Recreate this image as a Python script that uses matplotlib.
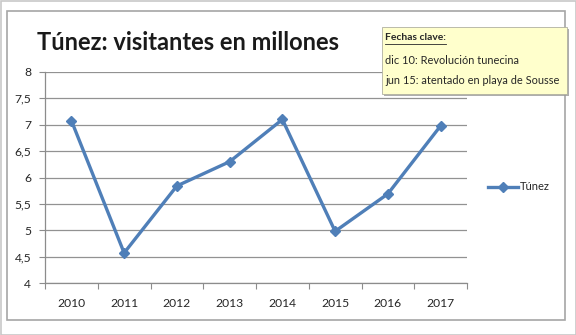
import matplotlib
matplotlib.use("Agg")
import matplotlib.pyplot as plt
from matplotlib.patches import Rectangle
from matplotlib.lines import Line2D

# Visitors to Tunisia, in millions
years = ["2010", "2011", "2012", "2013", "2014", "2015", "2016", "2017"]
visitors = [7.08, 4.57, 5.84, 6.30, 7.10, 4.98, 5.69, 6.98]
y_ticks = [4, 4.5, 5, 5.5, 6, 6.5, 7, 7.5, 8]
y_labels = ["4", "4,5", "5", "5,5", "6", "6,5", "7", "7,5", "8"]
series_name = "Túnez"
title = "Túnez: visitantes en millones"
notes_header = "Fechas clave:"
notes = ["dic 10: Revolución tunecina", "jun 15: atentado en playa de Sousse"]

FONT = ["Lato", "DejaVu Sans"]
plt.rcParams["font.family"] = FONT
LINE_BLUE = "#4F7FB8"
TEXT = "#262626"

W, H = 576, 335
fig = plt.figure(figsize=(W / 100, H / 100), dpi=100)
fig.patch.set_facecolor("white")

def px(x, y):
    return x / W, 1 - y / H

# outer image border and chart-area frame
fig.add_artist(Rectangle((0.5 / W, 0.5 / H), 1 - 1 / W, 1 - 1 / H, transform=fig.transFigure,
                         fill=False, edgecolor="#c8c8c8", linewidth=1.2))
fig.add_artist(Rectangle((7 / W, 1 - 320 / H), (565 - 7) / W, (320 - 11) / H,
                         transform=fig.transFigure, fill=False, edgecolor="#a6a6a6", linewidth=1.2))

ax = fig.add_axes([45 / W, 1 - 283 / H, (467 - 45) / W, (283 - 72) / H])
x = list(range(len(years)))
ax.plot(x, visitors, color=LINE_BLUE, linewidth=2.4, marker="D", markersize=5.5,
        markerfacecolor=LINE_BLUE, markeredgecolor=LINE_BLUE, zorder=3)

ax.set_xlim(-0.5, len(years) - 0.5)
ax.set_ylim(4, 8)
ax.set_yticks(y_ticks)
ax.set_yticklabels(y_labels)
ax.set_xticks(x)
ax.set_xticklabels(years)
ax.set_xticks([i - 0.5 for i in range(len(years) + 1)], minor=True)
ax.tick_params(axis="x", which="major", length=0, pad=11, labelsize=8.7, labelcolor=TEXT)
ax.tick_params(axis="x", which="minor", length=4, width=0.8, color="#8c8c8c", direction="out")
ax.tick_params(axis="y", which="major", length=4, width=0.8, color="#8c8c8c", pad=6,
               labelsize=8.7, labelcolor=TEXT)

ax.grid(axis="y", color="#929292", linewidth=0.9)
ax.set_axisbelow(True)
for side in ("top", "right"):
    ax.spines[side].set_visible(False)
for side in ("left", "bottom"):
    ax.spines[side].set_color("#8c8c8c")
    ax.spines[side].set_linewidth(0.9)

fig.text(*px(37, 42), title, fontsize=17, fontweight="bold", color="#1a1a1a",
         ha="left", va="center")

# legend entry
lx0, lx1, ly = 488, 518, 187
fig.add_artist(Line2D([lx0 / W, lx1 / W], [1 - ly / H] * 2, transform=fig.transFigure,
                      color=LINE_BLUE, linewidth=2.4))
fig.add_artist(Line2D([(lx0 + lx1) / 2 / W], [1 - ly / H], transform=fig.transFigure,
                      marker="D", markersize=5, color=LINE_BLUE, linestyle="none"))
fig.text(*px(520, ly), series_name, fontsize=8, color=TEXT, ha="left", va="center")

# key dates note box with shadow
bx0, by0, bx1, by1 = 382, 27, 567, 94
fig.add_artist(Rectangle(((bx0 + 2) / W, 1 - (by1 + 2) / H), (bx1 - bx0) / W, (by1 - by0) / H,
                         transform=fig.transFigure, facecolor="#9a9a9a", edgecolor="none",
                         alpha=0.8))
fig.add_artist(Rectangle((bx0 / W, 1 - by1 / H), (bx1 - bx0) / W, (by1 - by0) / H,
                         transform=fig.transFigure, facecolor="#FFFFCC", edgecolor="#b0b0a0",
                         linewidth=0.6))
header = fig.text(*px(385, 38), notes_header, fontsize=7.4, fontweight="bold", color=TEXT,
                  ha="left", va="center")
fig.text(*px(385, 60), notes[0], fontsize=7.9, color=TEXT, ha="left", va="center")
fig.text(*px(385, 81), notes[1], fontsize=7.9, color=TEXT, ha="left", va="center")

# underline the header to its rendered width
fig.canvas.draw()
hb = header.get_window_extent()
fig.add_artist(Line2D([hb.x0 / W, hb.x1 / W], [1 - 44 / H] * 2, transform=fig.transFigure,
                      color=TEXT, linewidth=0.6))

fig.savefig("out.png", dpi=100, facecolor="white")
